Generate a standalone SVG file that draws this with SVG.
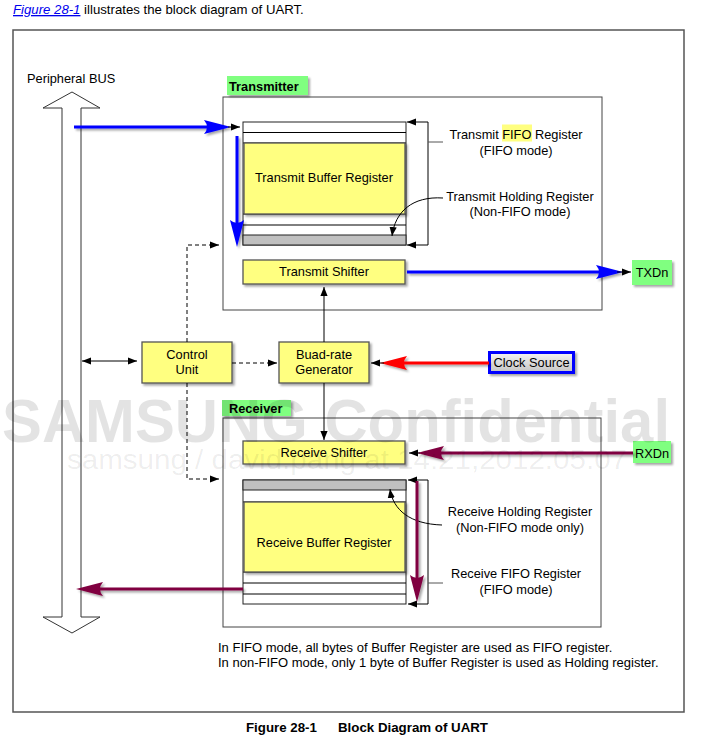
<svg xmlns="http://www.w3.org/2000/svg" width="712" height="738" viewBox="0 0 712 738">
<defs>
<style>
text{font-family:"Liberation Sans",Arial,sans-serif;font-size:12.8px;fill:#000}
.c{text-anchor:middle}
.b{font-weight:bold}
.yb{fill:#FFFF80;stroke:#555;stroke-width:1.3}
.gl{fill:#80FF80}
.row{fill:#fff;stroke:#222;stroke-width:1}
.gray{fill:#c0c0c0;stroke:#222;stroke-width:1}
.frame{fill:#fff;stroke:#444;stroke-width:1}
.ln{fill:none;stroke:#000;stroke-width:1}
.dash{fill:none;stroke:#000;stroke-width:1;stroke-dasharray:4 3}
.blue{fill:none;stroke:#0000FF;stroke-width:3}
.mar{fill:none;stroke:#800040;stroke-width:3}
.red{fill:none;stroke:#FF0000;stroke-width:3}
.hb{fill:#0000FF}
.hm{fill:#800040}
.hr{fill:#FF0000}
.wm{fill:#000;fill-opacity:0.11;font-weight:bold}
.wm2{fill:#000;fill-opacity:0.07}
</style>
<filter id="sh" x="-10%" y="-20%" width="130%" height="150%">
<feDropShadow dx="2" dy="2" stdDeviation="1.2" flood-color="#000" flood-opacity="0.35"/>
</filter>
<marker id="ah" viewBox="0 0 10 10" refX="10" refY="5" markerWidth="9" markerHeight="9" markerUnits="userSpaceOnUse" orient="auto-start-reverse"><path d="M0,1 L10,5 L0,9 z" fill="#000"/></marker>
<linearGradient id="cg" x1="0" y1="0" x2="0" y2="1"><stop offset="0" stop-color="#f4f4f4"/><stop offset="1" stop-color="#c4c4c4"/></linearGradient>
</defs>

<text x="13" y="14" style="font-size:13.2px"><tspan fill="#0000EE" font-style="italic" text-decoration="underline">Figure 28-1</tspan> illustrates the block diagram of UART.</text>

<rect x="13" y="30" width="671" height="682" fill="#fff" stroke="#555" stroke-width="1.5"/>

<g id="bus">
<polygon points="72,92 100,108 81,108 81,617 100,617 72,633 43,617 62,617 62,108 43,108" fill="#fff" stroke="#333" stroke-width="1"/>
<text x="27" y="83">Peripheral BUS</text>
</g>

<g id="transmitter">
<rect x="223" y="97" width="379" height="213" class="frame"/>
<rect x="227" y="76" width="81" height="19" class="gl" filter="url(#sh)"/>
<text x="229" y="91" class="b">Transmitter</text>
</g>

<g id="tx-fifo">
<rect x="243" y="122" width="163" height="123" class="row"/>
<line x1="243" y1="132.5" x2="406" y2="132.5" class="ln"/>
<line x1="243" y1="143" x2="406" y2="143" class="ln"/>
<line x1="243" y1="214" x2="406" y2="214" class="ln"/>
<line x1="243" y1="225" x2="406" y2="225" class="ln"/>
<rect x="243" y="235" width="163" height="10" class="gray"/>
<rect x="244" y="143" width="161" height="71" class="yb" filter="url(#sh)"/>
<text x="324" y="182" class="c">Transmit Buffer Register</text>
</g>

<g id="tx-shifter">
<rect x="243" y="260" width="162" height="24" class="yb" filter="url(#sh)"/>
<text x="324" y="276" class="c">Transmit Shifter</text>
</g>

<g id="txd">
<rect x="632" y="260" width="40" height="25" class="gl" filter="url(#sh)"/>
<text x="652" y="277" class="c">TXDn</text>
</g>

<g id="control">
<rect x="142" y="342" width="90" height="41" class="yb" filter="url(#sh)"/>
<text x="187" y="359" class="c">Control</text>
<text x="187" y="374" class="c">Unit</text>
</g>

<g id="baud">
<rect x="279" y="342" width="90" height="41" class="yb" filter="url(#sh)"/>
<text x="324" y="359" class="c">Buad-rate</text>
<text x="324" y="374" class="c">Generator</text>
</g>

<g id="clock">
<rect x="489.5" y="352.5" width="84" height="20" fill="url(#cg)" stroke="#0000FF" stroke-width="3" filter="url(#sh)"/>
<text x="531.5" y="367" class="c">Clock Source</text>
</g>

<g id="receiver">
<rect x="223" y="418" width="378" height="209" class="frame"/>
<rect x="222" y="400" width="69" height="16" class="gl" filter="url(#sh)"/>
<text x="229" y="412.5" class="b">Receiver</text>
</g>

<g id="rx-shifter">
<rect x="243" y="441" width="162" height="23" class="yb" filter="url(#sh)"/>
<text x="324" y="457" class="c">Receive Shifter</text>
</g>

<g id="rxd">
<rect x="633" y="441" width="38" height="22" class="gl" filter="url(#sh)"/>
<text x="652" y="457.5" class="c">RXDn</text>
</g>

<g id="rx-fifo">
<rect x="243" y="480" width="163" height="124" class="row"/>
<rect x="243" y="480" width="163" height="10" class="gray"/>
<line x1="243" y1="502" x2="406" y2="502" class="ln"/>
<line x1="243" y1="572" x2="406" y2="572" class="ln"/>
<line x1="243" y1="583" x2="406" y2="583" class="ln"/>
<line x1="243" y1="594" x2="406" y2="594" class="ln"/>
<rect x="244" y="502" width="161" height="70" class="yb" filter="url(#sh)"/>
<text x="324" y="547" class="c">Receive Buffer Register</text>
</g>

<g id="labels">
<rect x="502" y="124.5" width="30" height="17" fill="#FFFF80"/>
<text x="516" y="138.5" class="c">Transmit FIFO Register</text>
<text x="516" y="155" class="c">(FIFO mode)</text>
<text x="520" y="201" class="c">Transmit Holding Register</text>
<text x="520" y="216" class="c">(Non-FIFO mode)</text>
<text x="520" y="516" class="c">Receive Holding Register</text>
<text x="520" y="532" class="c">(Non-FIFO mode only)</text>
<text x="516" y="578" class="c">Receive FIFO Register</text>
<text x="516" y="594" class="c">(FIFO mode)</text>
<text x="218" y="652" style="font-size:13px">In FIFO mode, all bytes of Buffer Register are used as FIFO register.</text>
<text x="218" y="667" style="font-size:13px">In non-FIFO mode, only 1 byte of Buffer Register is used as Holding register.</text>
</g>

<g id="connectors">
<line x1="428" y1="122" x2="428" y2="245" class="ln"/>
<line x1="428" y1="122" x2="407" y2="122" class="ln" marker-end="url(#ah)"/>
<line x1="428" y1="245" x2="407" y2="245" class="ln" marker-end="url(#ah)"/>
<line x1="428" y1="142" x2="443" y2="142" stroke="#555" stroke-width="1"/>
<path d="M443,198 C412,196 395,212 392,236" class="ln" marker-end="url(#ah)"/>
<line x1="428" y1="480" x2="428" y2="604" class="ln"/>
<line x1="428" y1="480" x2="408" y2="480" class="ln" marker-end="url(#ah)"/>
<line x1="428" y1="604" x2="408" y2="604" class="ln" marker-end="url(#ah)"/>
<line x1="428" y1="583" x2="443" y2="583" stroke="#555" stroke-width="1"/>
<path d="M442,525 C410,524 393,510 390,489" class="ln" marker-end="url(#ah)"/>
<line x1="82" y1="361" x2="137" y2="361" class="ln" marker-start="url(#ah)" marker-end="url(#ah)"/>
<line x1="232" y1="363" x2="277" y2="363" class="dash" marker-end="url(#ah)"/>
<polyline points="187,342 187,245 219,245" class="dash" marker-end="url(#ah)"/>
<polyline points="187,383 187,479 219,479" class="dash" marker-end="url(#ah)"/>
<line x1="324" y1="342" x2="324" y2="287" class="ln" marker-end="url(#ah)"/>
<line x1="324" y1="383" x2="324" y2="440" class="ln" marker-end="url(#ah)"/>
<g filter="url(#sh)">
<line x1="74" y1="127" x2="212" y2="127" class="blue"/>
<path d="M231,127 L204,120 Q210,127 204,134 Z" class="hb"/>
<line x1="237" y1="136" x2="237" y2="228" class="blue"/>
<path d="M237,247 L230,220 Q237,226 244,220 Z" class="hb"/>
<line x1="407" y1="272" x2="604" y2="272" class="blue"/>
<path d="M623,272 L596,265 Q602,272 596,279 Z" class="hb"/>
<line x1="489" y1="363" x2="398" y2="363" class="red"/>
<path d="M380,363 L407,356 Q401,363 407,370 Z" class="hr"/>
<line x1="633" y1="453" x2="436" y2="453" class="mar"/>
<path d="M417,453 L444,446 Q438,453 444,460 Z" class="hm"/>
<line x1="417" y1="481" x2="417" y2="583" class="mar"/>
<path d="M417,602 L410,575 Q417,581 424,575 Z" class="hm"/>
<line x1="243" y1="589" x2="95" y2="589" class="mar"/>
<path d="M76,589 L103,582 Q97,589 103,596 Z" class="hm"/>
</g>
<line x1="228" y1="127" x2="240" y2="127" class="ln" marker-end="url(#ah)"/>
<line x1="617" y1="272" x2="631" y2="272" class="ln" marker-end="url(#ah)"/>
<line x1="384" y1="363" x2="371" y2="363" class="ln" marker-end="url(#ah)"/>
<line x1="420" y1="453" x2="409" y2="453" class="ln" marker-end="url(#ah)"/>
</g>

<text x="246" y="732" class="b" style="font-size:13.3px">Figure 28-1</text>
<text x="338" y="732" class="b" style="font-size:13.3px">Block Diagram of UART</text>

<g id="watermark">
<text x="2" y="442" class="wm" style="font-size:62px" textLength="668" lengthAdjust="spacingAndGlyphs">SAMSUNG Confidential</text>
<text x="67" y="469" class="wm2" style="font-size:27px" textLength="560" lengthAdjust="spacingAndGlyphs">samsung / david.pang at 14:21,2012.05.07</text>
</g>
</svg>
